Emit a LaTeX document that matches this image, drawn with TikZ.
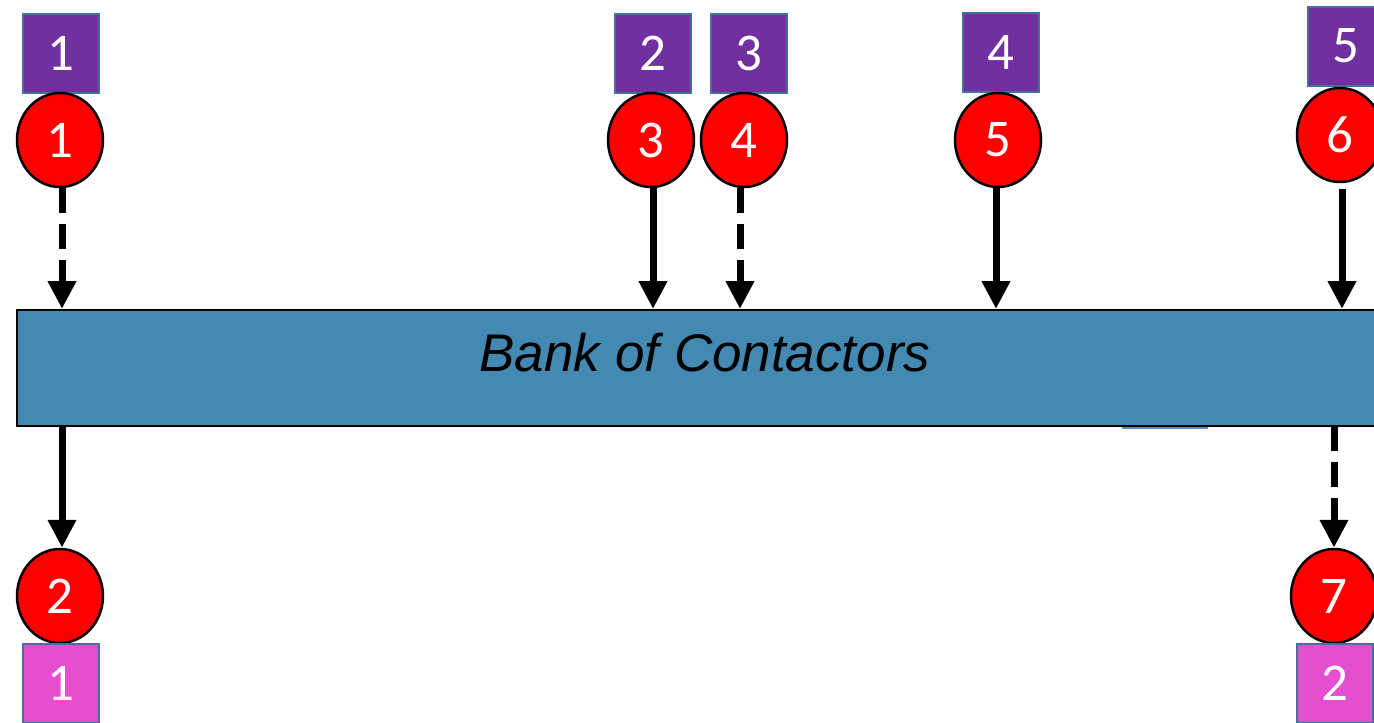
\documentclass[tikz,border=0pt]{standalone}
\usepackage{fontspec}
\setmainfont{Carlito}
\newfontfamily\barfont{Liberation Sans}
\usetikzlibrary{arrows.meta,shapes.geometric}
\definecolor{barblue}{RGB}{67,137,178}
\definecolor{stepred}{RGB}{255,0,0}
\definecolor{inpurple}{RGB}{112,48,160}
\definecolor{outpink}{RGB}{227,79,207}
\definecolor{edgeblue}{RGB}{65,113,156}
\definecolor{markblue}{RGB}{91,141,192}
\tikzset{
  stepcircle/.style={ellipse, draw=black, line width=2.5pt, fill=stepred,
    minimum width=86pt, minimum height=94pt, inner sep=0pt,
    text=white, font=\fontsize{53}{53}\selectfont},
  inbox/.style={rectangle, draw=edgeblue, line width=2pt, fill=inpurple,
    minimum width=76pt, minimum height=79pt, inner sep=0pt,
    text=white, font=\fontsize{53}{53}\selectfont},
  outbox/.style={inbox, fill=outpink},
  flow/.style={line width=7pt, -{Triangle[length=28pt,width=27pt]}},
  flowdash/.style={flow, dash pattern=on 25pt off 11pt},
}
\begin{document}
\begin{tikzpicture}[x=1pt,y=-1pt]
\useasboundingbox (0,0) rectangle (1374,723);
\clip (0,0) rectangle (1374,723);
\fill[white] (0,0) rectangle (1374,723);

% contactor bank
\node[draw=black, line width=1.5pt, fill=barblue, minimum width=1372pt,
      minimum height=116pt, inner sep=0pt, anchor=north west] (bar) at (16,309) {};
\node[font=\barfont\itshape\fontsize{53}{53}\selectfont] (bartext) at (705,353) {Bank of Contactors};
\draw[markblue, line width=2pt] (1122,428) -- (1208,428);

% purple input boxes
\node[inbox] (p1) at (61,53) {1};
\node[inbox] (p2) at (653,53) {2};
\node[inbox] (p3) at (749,53) {3};
\node[inbox] (p4) at (1001,52) {4};
\node[inbox] (p5) at (1346,46) {5};

% red step circles
\node[stepcircle] (c1) at (60,140) {1};
\node[stepcircle] (c3) at (651,140) {3};
\node[stepcircle] (c4) at (744,140) {4};
\node[stepcircle] (c5) at (998,140) {5};
\node[stepcircle] (c6) at (1340,135) {6};
\node[stepcircle] (c2) at (60,596) {2};
\node[stepcircle] (c7) at (1334,596) {7};

% pink output boxes
\node[outbox] (q1) at (61,683) {1};
\node[outbox] (q2) at (1335,683) {2};

% connectors into the bank
\draw[flowdash] (62,188) coordinate (a1) -- (a1 |- bar.north);
\draw[flow] (653,188) coordinate (a3) -- (a3 |- bar.north);
\draw[flowdash] (740,188) coordinate (a4) -- (a4 |- bar.north);
\draw[flow] (996,188) coordinate (a5) -- (a5 |- bar.north);
\draw[flow] (1342,189) coordinate (a6) -- (a6 |- bar.north);

% connectors out of the bank
\draw[flow] (62,426) coordinate (b1) -- (b1 |- c2.north);
\draw[flowdash] (1334,426) coordinate (b2) -- (b2 |- c7.north);
\end{tikzpicture}
\end{document}
